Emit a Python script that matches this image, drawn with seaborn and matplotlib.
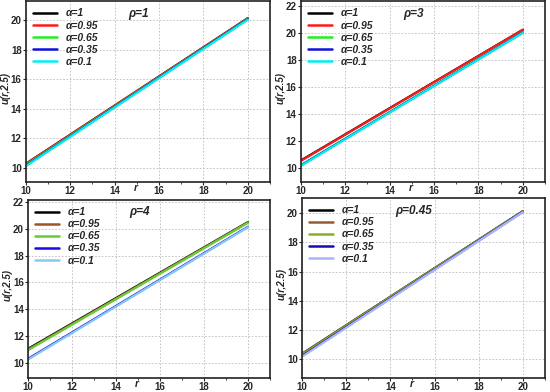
import matplotlib
matplotlib.use("Agg")
import matplotlib.pyplot as plt
import seaborn as sns
from matplotlib.ticker import MultipleLocator

sns.set_style("ticks")
plt.rcParams["font.family"] = ["Liberation Sans", "DejaVu Sans"]
plt.rcParams["font.weight"] = "bold"

r = [10, 15, 20]
alphas = ["α=1", "α=0.95", "α=0.65", "α=0.35", "α=0.1"]

# rho = 1
u_rho1 = [
    [10.28, 15.21, 20.15],
    [10.27, 15.20, 20.14],
    [10.20, 15.15, 20.10],
    [10.15, 15.12, 20.08],
    [10.12, 15.09, 20.05],
]
# rho = 3
u_rho3 = [
    [10.55, 15.40, 20.25],
    [10.52, 15.38, 20.24],
    [10.20, 15.13, 20.05],
    [10.18, 15.11, 20.04],
    [10.15, 15.09, 20.02],
]
# rho = 4
u_rho4 = [
    [11.05, 15.78, 20.50],
    [11.00, 15.74, 20.48],
    [10.95, 15.70, 20.45],
    [10.30, 15.23, 20.15],
    [10.25, 15.19, 20.12],
]
# rho = 0.45
u_rho045 = [
    [10.35, 15.25, 20.15],
    [10.33, 15.24, 20.14],
    [10.30, 15.22, 20.13],
    [10.20, 15.15, 20.10],
    [10.15, 15.12, 20.08],
]

colors_a = ["black", "#ff1a1a", "#22ee22", "#1010e0", "#00f0f0"]
colors_b = ["black", "#a0522d", "#66cc33", "#1010e0", "#87c8f5"]
colors_c = ["black", "#9a5a30", "#88b020", "#1010b0", "#aab4ff"]

panels = [
    ("ρ=1", u_rho1, colors_a, [0.047, 0.536, 0.444, 0.461], (9.05, 21.3), [10, 12, 14, 16, 18, 20]),
    ("ρ=3", u_rho3, colors_a, [0.547, 0.536, 0.444, 0.461], (8.96, 22.37), [10, 12, 14, 16, 18, 20, 22]),
    ("ρ=4", u_rho4, colors_b, [0.051, 0.036, 0.440, 0.454], (8.88, 22.15), [10, 12, 14, 16, 18, 20, 22]),
    ("ρ=0.45", u_rho045, colors_c, [0.549, 0.036, 0.442, 0.459], (8.7, 21.05), [10, 12, 14, 16, 18, 20]),
]

fig = plt.figure(figsize=(5.5, 3.92), dpi=100)

for title, series, cols, pos, ylim, yticks in panels:
    ax = fig.add_axes(pos)
    for vals, c, lab in zip(series, cols, alphas):
        sns.lineplot(x=r, y=vals, color=c, label=lab, linewidth=1.6, ax=ax)
    ax.set_xlim(10, 21)
    ax.set_ylim(*ylim)
    ax.set_xticks([10, 12, 14, 16, 18, 20])
    ax.set_yticks(yticks)
    ax.xaxis.set_minor_locator(MultipleLocator(1))
    ax.grid(True, which="major", linestyle=(0, (2, 2)), color="#bbbbbb", linewidth=0.6)
    ax.tick_params(labelsize=7, length=2, width=0.8, pad=1)
    ax.tick_params(which="minor", length=1.5, width=0.6)
    for lbl in ax.get_xticklabels() + ax.get_yticklabels():
        lbl.set_fontweight("bold")
    for s in ax.spines.values():
        s.set_linewidth(1.2)
        s.set_color("#222222")
    ax.set_xlabel("r", fontsize=7.5, fontstyle="italic", fontweight="bold")
    ax.xaxis.set_label_coords(0.45, -0.005)
    ax.xaxis.label.set_va("top")
    ax.set_ylabel("u(r,2.5)", fontsize=7, fontstyle="italic", fontweight="bold")
    ax.yaxis.label.set_va("center")
    ax.yaxis.set_label_coords(-20.5 / (pos[2] * 550), 0.52)
    ax.text(0.46, 0.93, title, transform=ax.transAxes, fontsize=8.5,
            fontstyle="italic", fontweight="bold", ha="center", va="center")
    leg = ax.legend(loc="upper left", frameon=False,
                    handlelength=2.3, labelspacing=0.2, borderaxespad=0.3,
                    prop={"style": "italic", "weight": "bold", "size": 7.5})
    for line in leg.get_lines():
        line.set_linewidth(1.8)

fig.savefig("out.png", dpi=100)
